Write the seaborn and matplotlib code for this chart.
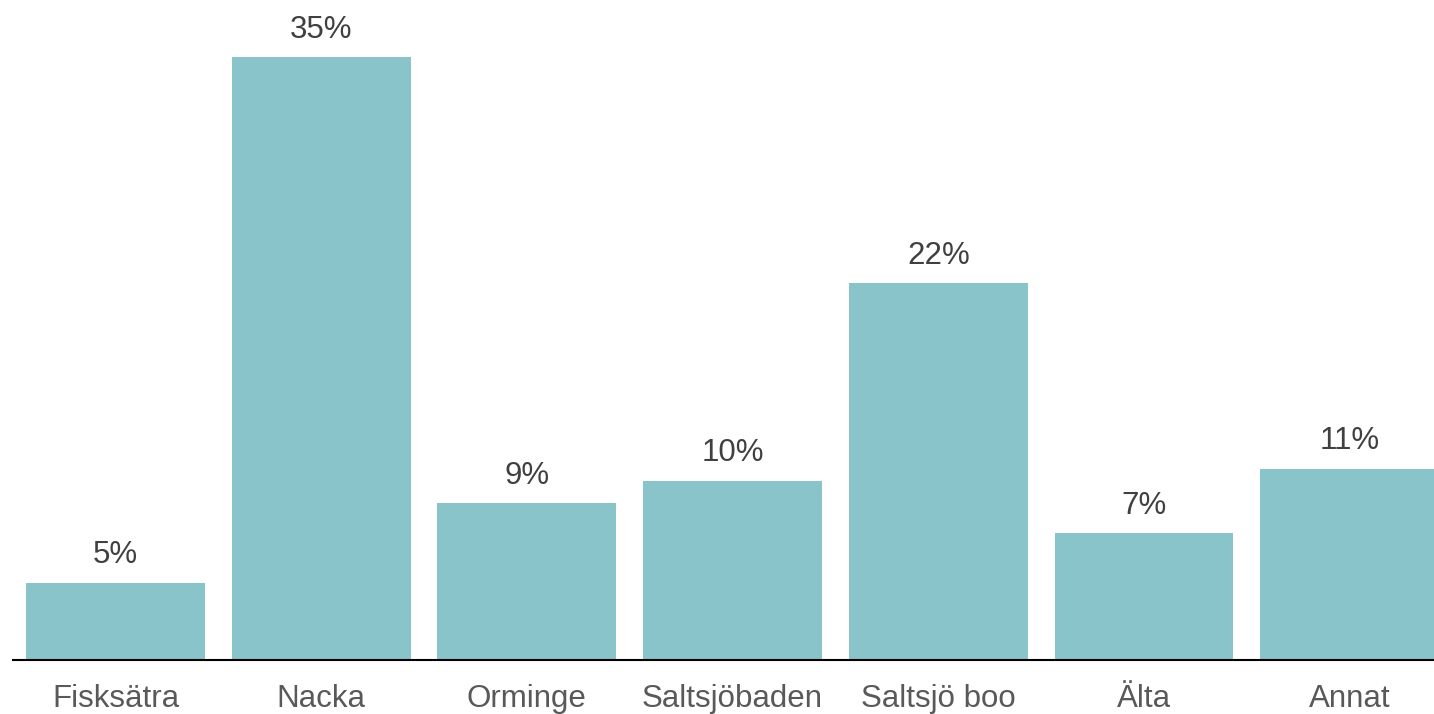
import matplotlib
matplotlib.use("Agg")
import matplotlib.pyplot as plt
import seaborn as sns
import pandas as pd

# data
areas = ["Fisksätra", "Nacka", "Orminge", "Saltsjöbaden", "Saltsjö boo", "Älta", "Annat"]
shares = [4.47, 35.0, 9.11, 10.39, 21.88, 7.37, 11.09]
share_labels = ["5%", "35%", "9%", "10%", "22%", "7%", "11%"]

BAR_COLOR = "#89C4CB"
TEXT_COLOR = "#404040"
TICK_COLOR = "#595959"

sns.set_style("white")
plt.rcParams["font.family"] = ["Liberation Sans", "DejaVu Sans"]

df = pd.DataFrame({"area": areas, "share": shares})

fig = plt.figure(figsize=(14.34, 7.14), dpi=100)
# axis area runs slightly past the right edge of the picture, as in the reference
ax = fig.add_axes([12.7 / 1434, 54 / 714, 1 - 12.7 / 1434, 660 / 714])

sns.barplot(data=df, x="area", y="share", color=BAR_COLOR, width=0.87,
            saturation=1, linewidth=0, ax=ax)

ax.set_xlim(-0.5, 6.41)
ax.set_ylim(0, max(shares) * 660 / 603)

for i, (v, lab) in enumerate(zip(shares, share_labels)):
    ax.annotate(lab, (i, v), xytext=(0, 9), textcoords="offset points",
                ha="center", va="bottom", fontsize=22.5, color=TEXT_COLOR)

sns.despine(ax=ax, left=True)
ax.spines["bottom"].set_color("#000000")
ax.spines["bottom"].set_linewidth(1.5)
ax.set_yticks([])
ax.set_xlabel("")
ax.set_ylabel("")
ax.tick_params(axis="x", length=0, pad=17, labelsize=22.5, labelcolor=TICK_COLOR)

fig.savefig("out.png", dpi=100)
